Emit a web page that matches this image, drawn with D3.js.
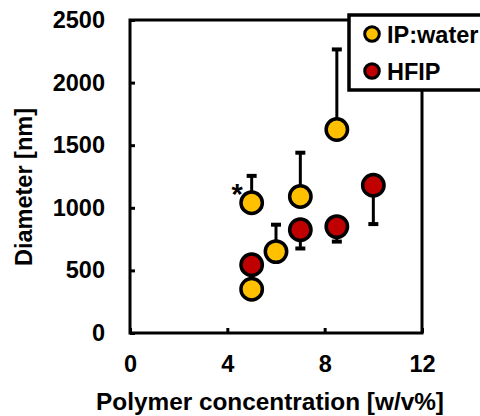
<!DOCTYPE html>
<html>
<head>
<meta charset="utf-8">
<script src="https://cdn.jsdelivr.net/npm/d3@7"></script>
<style>
  body { margin: 0; background: #fff; }
  svg { display: block; }
  text { font-family: "Liberation Sans", Arial, sans-serif; font-weight: bold; fill: #000; }
</style>
</head>
<body>
<script>
// polymer concentration [w/v%] and mean diameter [nm], one-sided error (+ for IP:water, - for HFIP)
var ipConc  = [5, 5, 6, 7, 8.5];
var ipDiam  = [1040, 350, 650, 1090, 1625];
var ipErr   = [215, 0, 215, 350, 640];
var ipStar  = [true, false, false, false, false];

var hfConc  = [5, 7, 8.5, 10];
var hfDiam  = [545, 825, 850, 1180];
var hfErr   = [0, 150, 120, 310];

var xTicks = [0, 4, 8, 12];
var yTicks = [0, 500, 1000, 1500, 2000, 2500];
var seriesNames = ["IP:water", "HFIP"];

var W = 480, H = 416;
var FS = "23.5px";
var svg = d3.select("body").append("svg").attr("width", W).attr("height", H);

var x = d3.scaleLinear().domain([0, 12]).range([130, 422]);
var y = d3.scaleLinear().domain([0, 2500]).range([333, 20]);

// axes, ticks pointing inward
svg.append("g")
    .attr("transform", "translate(130,0)")
    .call(d3.axisLeft(y).tickValues(yTicks).tickFormat(d3.format("d")).tickSize(-5).tickPadding(25))
    .call(function(g) { g.select(".domain").remove(); })
    .call(function(g) { g.selectAll("line").attr("stroke-width", 3); })
    .selectAll("text").style("font-size", FS);

svg.append("g")
    .attr("transform", "translate(0,333)")
    .call(d3.axisBottom(x).tickValues(xTicks).tickFormat(d3.format("d")).tickSize(-5).tickPadding(22))
    .call(function(g) { g.select(".domain").remove(); })
    .call(function(g) { g.selectAll("line").attr("stroke-width", 3); })
    .selectAll("text").style("font-size", FS);

// font-family is set by d3 on the axis group; let css win
svg.selectAll("g").attr("font-family", null);

// plot frame
svg.append("rect")
    .attr("x", x(0)).attr("y", y(2500))
    .attr("width", x(12) - x(0)).attr("height", y(0) - y(2500))
    .attr("fill", "none").attr("stroke", "#000").attr("stroke-width", 3);

// axis titles
svg.append("text")
    .attr("transform", "translate(32,187) rotate(-90)")
    .attr("text-anchor", "middle")
    .style("font-size", FS)
    .text("Diameter [nm]");

svg.append("text")
    .attr("x", 270).attr("y", 410)
    .attr("text-anchor", "middle")
    .attr("textLength", 348).attr("lengthAdjust", "spacingAndGlyphs")
    .style("font-size", FS)
    .text("Polymer concentration [w/v%]");

var ip = ipConc.map(function(c, i) { return { c: c, d: ipDiam[i], e: ipErr[i], star: ipStar[i] }; });
var hf = hfConc.map(function(c, i) { return { c: c, d: hfDiam[i], e: hfErr[i] }; });

// error bars
function errBars(data, sign) {
  var g = svg.append("g").attr("stroke", "#000").attr("stroke-width", 3);
  var sel = data.filter(function(d) { return d.e > 0; });
  g.selectAll("line.v").data(sel).enter().append("line")
      .attr("x1", function(d) { return x(d.c); }).attr("x2", function(d) { return x(d.c); })
      .attr("y1", function(d) { return y(d.d); })
      .attr("y2", function(d) { return y(d.d + sign * d.e); });
  g.selectAll("line.cap").data(sel).enter().append("line")
      .attr("stroke-width", 4)
      .attr("x1", function(d) { return x(d.c) - 5; }).attr("x2", function(d) { return x(d.c) + 5; })
      .attr("y1", function(d) { return y(d.d + sign * d.e); })
      .attr("y2", function(d) { return y(d.d + sign * d.e); });
}
errBars(ip, 1);
errBars(hf, -1);

function markers(data, fill) {
  svg.append("g").selectAll("circle").data(data).enter().append("circle")
      .attr("cx", function(d) { return x(d.c); })
      .attr("cy", function(d) { return y(d.d); })
      .attr("r", 10.7)
      .attr("fill", fill).attr("stroke", "#000").attr("stroke-width", 3.5);
}
markers(ip, "#FFC000");
markers(hf, "#C00000");

// significance mark
svg.selectAll("text.star").data(ip.filter(function(d) { return d.star; })).enter()
    .append("text")
    .attr("x", function(d) { return x(d.c) - 14.5; })
    .attr("y", function(d) { return y(d.d) + 1; })
    .attr("text-anchor", "middle")
    .style("font-size", "29px")
    .text("*");

// legend
var lg = svg.append("g").attr("transform", "translate(349,15)");
lg.append("rect").attr("x", 0).attr("y", 0).attr("width", 140).attr("height", 75)
    .attr("fill", "#fff").attr("stroke", "#000").attr("stroke-width", 3.5);
var fills = ["#FFC000", "#C00000"];
seriesNames.forEach(function(n, i) {
  lg.append("circle").attr("cx", 23).attr("cy", 19 + i * 37).attr("r", 7.3)
      .attr("fill", fills[i]).attr("stroke", "#000").attr("stroke-width", 3);
  lg.append("text").attr("x", 38).attr("y", 28 + i * 37)
      .style("font-size", FS).text(n);
});
</script>
</body>
</html>
